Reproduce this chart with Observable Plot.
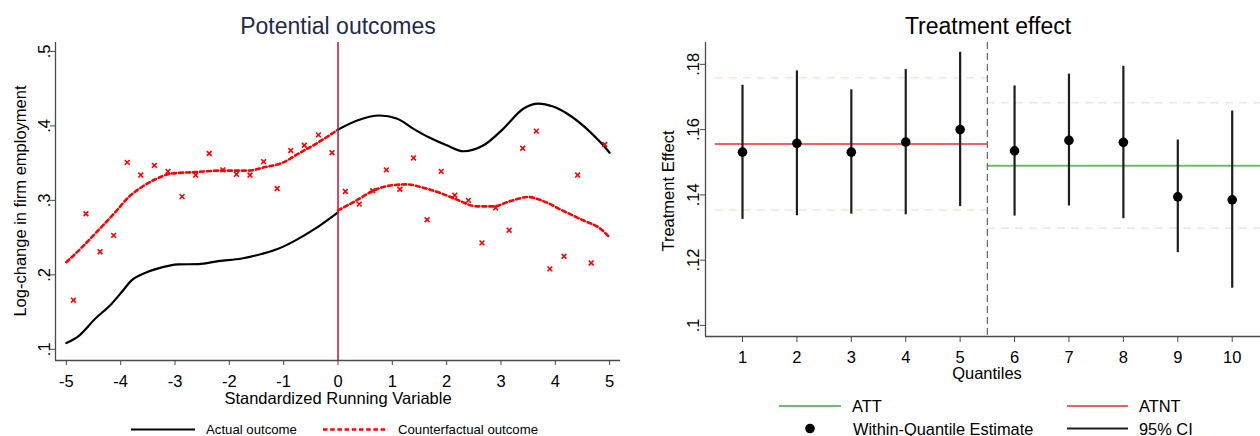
<!DOCTYPE html>
<html><head><meta charset="utf-8">
<script src="https://cdn.jsdelivr.net/npm/d3@7"></script>
<script src="https://cdn.jsdelivr.net/npm/@observablehq/plot@0.6"></script>
<style>
body{margin:0;background:#fff;font-family:"Liberation Sans",Arial,sans-serif;color:#000;}
#wrap{position:relative;width:1260px;height:436px;overflow:hidden;}
.p{position:absolute;top:0;}
.t{position:absolute;white-space:nowrap;line-height:1;}
.c{transform:translate(-50%,-50%);}
.l{transform:translateY(-50%);}
.r{transform:translate(-50%,-50%) rotate(-90deg);}
svg.sw{position:absolute;overflow:visible;}
</style></head><body><div id="wrap"></div>
<script>
// ---------- Left panel: potential outcomes ----------
const leftXTicks = [-5,-4,-3,-2,-1,0,1,2,3,4,5];
const leftYTicks = [0.1,0.2,0.3,0.4,0.5];
const leftYTickLabels = [".1",".2",".3",".4",".5"];
const leftXDomain = [-5.2, 5.2];
const leftYDomain = [0.085, 0.512];
const cutoffRunning = 0;

const actualLeftX = [-5.0,-4.78,-4.47,-4.17,-3.98,-3.80,-3.61,-3.37,-3.1,-2.94,-2.57,-2.2,-1.77,-1.41,-1.1,-0.79,-0.42,0];
const actualLeftY = [0.1085,0.1175,0.141,0.161,0.177,0.1926,0.2007,0.2074,0.2125,0.214,0.2145,0.2185,0.222,0.228,0.235,0.246,0.262,0.284];
const actualRightX = [0,0.34,0.77,1.08,1.39,1.69,2.0,2.31,2.68,3.04,3.41,3.69,3.96,4.27,4.58,4.83,5.0];
const actualRightY = [0.395,0.407,0.414,0.410,0.396,0.384,0.374,0.366,0.374,0.396,0.423,0.430,0.426,0.414,0.396,0.378,0.364];
const cfLeftX = [-5,-4.72,-4.41,-4.1,-3.86,-3.61,-3.37,-3.06,-2.63,-2.14,-1.65,-1.34,-1.04,-0.73,-0.36,0];
const cfLeftY = [0.217,0.2365,0.26,0.284,0.304,0.318,0.328,0.336,0.338,0.340,0.340,0.3447,0.350,0.3627,0.378,0.395];
const cfRightX = [0,0.34,0.65,0.96,1.27,1.57,1.88,2.19,2.55,2.86,3.17,3.5,3.78,4.15,4.52,4.83,5.0];
const cfRightY = [0.2866,0.300,0.313,0.320,0.3215,0.317,0.310,0.301,0.292,0.292,0.299,0.3045,0.299,0.2857,0.273,0.262,0.250];
const binX = [-4.87,-4.64,-4.38,-4.13,-3.88,-3.63,-3.38,-3.13,-2.87,-2.62,-2.37,-2.12,-1.87,-1.62,-1.37,-1.12,-0.87,-0.62,-0.36,-0.11,
              0.135,0.39,0.64,0.89,1.14,1.39,1.64,1.90,2.15,2.40,2.65,2.90,3.15,3.40,3.65,3.90,4.16,4.41,4.66,4.91];
const binY = [0.166,0.282,0.231,0.253,0.351,0.334,0.347,0.339,0.305,0.334,0.363,0.341,0.335,0.334,0.352,0.316,0.367,0.374,0.388,0.364,
              0.312,0.295,0.313,0.341,0.315,0.357,0.274,0.339,0.307,0.300,0.243,0.290,0.260,0.370,0.393,0.208,0.225,0.334,0.216,0.375];

// ---------- Right panel: treatment effect ----------
const quantiles = [1,2,3,4,5,6,7,8,9,10];
const estimates = [0.1531,0.1558,0.1531,0.1562,0.1600,0.1535,0.1567,0.1561,0.1394,0.1385];
const ciLow  = [0.1325,0.1336,0.1341,0.1339,0.1364,0.1335,0.1366,0.1327,0.1223,0.1114];
const ciHigh = [0.1736,0.1780,0.1722,0.1784,0.1837,0.1734,0.1770,0.1794,0.1568,0.1657];
const rightYTicks = [0.1,0.12,0.14,0.16,0.18];
const rightYTickLabels = [".1",".12",".14",".16",".18"];
const rightXDomain = [0.32, 10.52];
const rightYDomain = [0.0966, 0.1867];
const atnt = 0.1556, atntCI = [0.1354, 0.1759], atntSpan = [0.5, 5.5];
const att  = 0.1489, attCI  = [0.1298, 0.1682], attSpan  = [5.5, 10.7];
const cutoffQuantile = 5.5;

const zip = (xs, ys) => xs.map((x, i) => ({x, y: ys[i]}));
const leftLabelMap = new Map(leftYTicks.map((d, i) => [d, leftYTickLabels[i]]));
const rightLabelMap = new Map(rightYTicks.map((d, i) => [d, rightYTickLabels[i]]));
const font = "'Liberation Sans', Arial, sans-serif";
const axisColor = "#4a4a4a";
const tickFont = 16.5;

const leftPlot = Plot.plot({
  width: 630, height: 436, marginLeft: 55, marginRight: 10, marginTop: 42, marginBottom: 76,
  style: {fontFamily: font, fontSize: tickFont + "px", color: "#000", background: "transparent", overflow: "visible"},
  x: {domain: leftXDomain}, y: {domain: leftYDomain},
  marks: [
    Plot.ruleX([leftXDomain[0]], {stroke: axisColor, strokeWidth: 1.3}),
    Plot.ruleY([leftYDomain[0]], {stroke: axisColor, strokeWidth: 1.3}),
    Plot.axisX(leftXTicks, {tickSize: 5, tickPadding: 9.3, tickFormat: d => String(d), stroke: axisColor, fill: "#000", fontSize: tickFont, label: null}),
    Plot.axisY(leftYTicks, {tickSize: 5, tickPadding: 0.5, tickRotate: -90, tickFormat: d => leftLabelMap.get(d), stroke: axisColor, fill: "#000", fontSize: tickFont, label: null}),
    Plot.line(zip(cfLeftX, cfLeftY), {x: "x", y: "y", stroke: "#ff0000", strokeWidth: 2.6, strokeDasharray: "4,3", curve: "monotone-x"}),
    Plot.line(zip(cfRightX, cfRightY), {x: "x", y: "y", stroke: "#ff0000", strokeWidth: 2.6, strokeDasharray: "4,3", curve: "monotone-x"}),
    Plot.line(zip(actualLeftX, actualLeftY), {x: "x", y: "y", stroke: "#000", strokeWidth: 2.2, curve: "monotone-x"}),
    Plot.line(zip(actualRightX, actualRightY), {x: "x", y: "y", stroke: "#000", strokeWidth: 2.2, curve: "monotone-x"}),
    Plot.dot(zip(binX, binY), {x: "x", y: "y", symbol: "times", r: 2.3, stroke: "#ff0000", strokeWidth: 1.6}),
    Plot.ruleX([cutoffRunning], {stroke: "#c81e45", strokeWidth: 1.6})
  ]
});

const ciData = quantiles.map((q, i) => ({q, est: estimates[i], lo: ciLow[i], hi: ciHigh[i]}));
const rightPlot = Plot.plot({
  width: 630, height: 436, marginLeft: 75, marginRight: 0, marginTop: 42, marginBottom: 100,
  style: {fontFamily: font, fontSize: tickFont + "px", color: "#000", background: "transparent"},
  x: {domain: rightXDomain}, y: {domain: rightYDomain},
  marks: [
    Plot.ruleY(atntCI, {x1: atntSpan[0], x2: atntSpan[1], stroke: "#fde3d3", strokeWidth: 1.5, strokeDasharray: "8,6"}),
    Plot.ruleY(attCI, {x1: attSpan[0], x2: attSpan[1], stroke: "#e0f0dc", strokeWidth: 1.5, strokeDasharray: "8,6"}),
    Plot.ruleY([atnt], {x1: atntSpan[0], x2: atntSpan[1], stroke: "#f06262", strokeWidth: 2}),
    Plot.ruleY([att], {x1: attSpan[0], x2: attSpan[1], stroke: "#6dbb6d", strokeWidth: 2, clip: true}),
    Plot.ruleX([cutoffQuantile], {stroke: "#666", strokeWidth: 1.2, strokeDasharray: "7,4"}),
    Plot.ruleX([rightXDomain[0]], {stroke: axisColor, strokeWidth: 1.3}),
    Plot.ruleY([rightYDomain[0]], {stroke: axisColor, strokeWidth: 1.3}),
    Plot.axisX(quantiles, {tickSize: 6, tickPadding: 9, tickFormat: d => String(d), stroke: axisColor, fill: "#000", fontSize: tickFont, label: null}),
    Plot.axisY(rightYTicks, {tickSize: 5, tickPadding: 2, tickRotate: -90, tickFormat: d => rightLabelMap.get(d), stroke: axisColor, fill: "#000", fontSize: tickFont, label: null}),
    Plot.ruleX(ciData, {x: "q", y1: "lo", y2: "hi", stroke: "#1e1e1e", strokeWidth: 2.2}),
    Plot.dot(ciData, {x: "q", y: "est", r: 4.8, fill: "#000"})
  ]
});

for (const svg of [leftPlot, rightPlot]) {
  d3.select(svg).selectAll("text").style("font-size", tickFont + "px").style("font-family", font);
}

const wrap = document.getElementById("wrap");
leftPlot.classList.add("p"); leftPlot.style.left = "0px";
rightPlot.classList.add("p"); rightPlot.style.left = "630px";
wrap.appendChild(leftPlot);
wrap.appendChild(rightPlot);

function txt(s, x, y, cls, size, color = "#000", lh = 1) {
  const d = document.createElement("div");
  d.className = "t " + cls;
  d.textContent = s;
  d.style.left = x + "px"; d.style.top = y + "px";
  d.style.fontSize = size + "px"; d.style.color = color; d.style.lineHeight = lh;
  wrap.appendChild(d);
}
function swatch(html) {
  const s = document.createElementNS("http://www.w3.org/2000/svg", "svg");
  s.setAttribute("class", "sw"); s.setAttribute("width", 1260); s.setAttribute("height", 436);
  s.style.left = "0px"; s.style.top = "0px"; s.style.pointerEvents = "none";
  s.innerHTML = html; wrap.appendChild(s);
}
txt("Potential outcomes", 338, 26, "c", 23, "#1c2b4d");
txt("Log-change in firm employment", 20, 201, "r", 16.5);
txt("Standardized Running Variable", 338, 397.5, "c", 16.5);
txt("Treatment effect", 988, 26, "c", 23);
txt("Treatment Effect", 668, 190.5, "r", 16.5);
txt("Quantiles", 987, 373, "c", 16.5);

swatch(`
<line x1="131" x2="195" y1="429.5" y2="429.5" stroke="#000" stroke-width="2.2"/>
<line x1="323" x2="388" y1="429.5" y2="429.5" stroke="#ff0000" stroke-width="2.6" stroke-dasharray="4.5,2.7"/>
<line x1="779" x2="841" y1="406" y2="406" stroke="#6dbb6d" stroke-width="2"/>
<line x1="1067" x2="1128" y1="406" y2="406" stroke="#f06262" stroke-width="2"/>
<circle cx="810" cy="428.5" r="4.8" fill="#000"/>
<line x1="1067" x2="1128" y1="428.5" y2="428.5" stroke="#1e1e1e" stroke-width="2"/>
`);
txt("Actual outcome", 206, 429.5, "l", 13.2, "#000", 0.7);
txt("Counterfactual outcome", 398, 429.5, "l", 13.2, "#000", 0.7);
txt("ATT", 852, 406, "l", 16.4);
txt("ATNT", 1139, 406, "l", 16.4);
txt("Within-Quantile Estimate", 853, 428.5, "l", 16.4, "#000", 0.65);
txt("95% CI", 1139, 428.5, "l", 16.4, "#000", 0.65);
</script></body></html>
